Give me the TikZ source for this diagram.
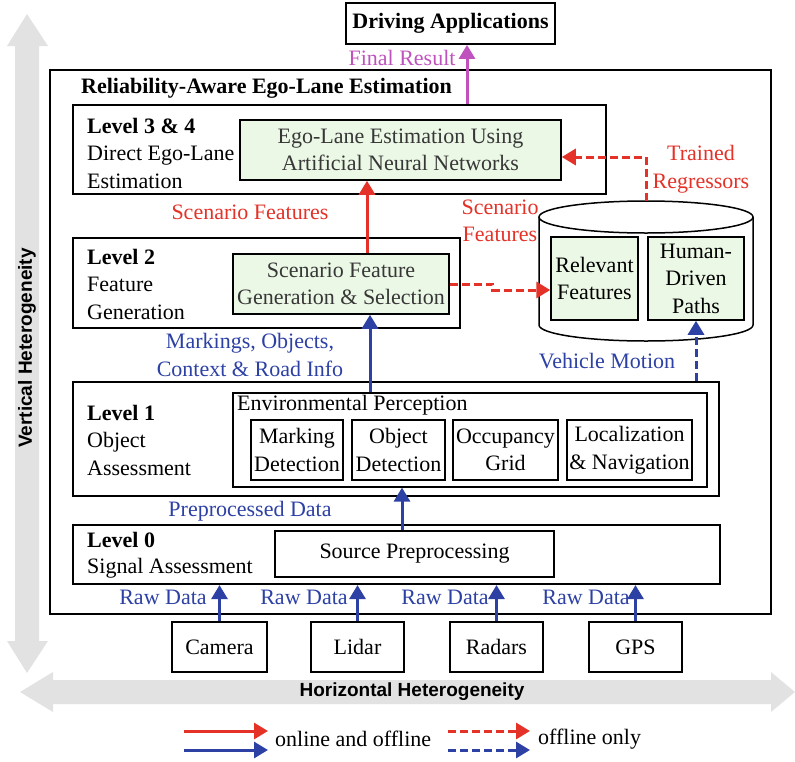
\documentclass[tikz,border=0pt]{standalone}
\usepackage{fontspec}
\setmainfont{Liberation Serif}
\setsansfont{Liberation Sans}
\usetikzlibrary{arrows.meta}

\definecolor{cred}{RGB}{228,50,40}
\definecolor{cblue}{RGB}{45,65,165}
\definecolor{cmag}{RGB}{192,82,190}
\definecolor{cgreen}{RGB}{236,248,230}
\definecolor{cgray}{RGB}{226,226,226}
\definecolor{ctext}{RGB}{55,55,55}

\tikzset{
  box/.style={draw=black, line width=1.5pt, inner sep=0pt, fill=white},
  lvbox/.style={box, line width=2.2pt},
  greenbox/.style={box, fill=cgreen, text=ctext, align=center},
  thinbox/.style={box, line width=1.3pt, align=center},
  lvtext/.style={anchor=west, align=left, inner sep=0pt},
  flow/.style={line width=3pt, -{Triangle[length=14pt,width=16pt]}},
  offl/.style={flow, dash pattern=on 8pt off 4pt},
  lbl/.style={inner sep=0pt, align=center},
  hetero/.style={font=\sffamily\bfseries\fontsize{19}{22}\selectfont, inner sep=0pt}
}

\begin{document}
\begin{tikzpicture}[x=1pt, y=-1pt, font=\fontsize{22}{27.5}\selectfont]
\useasboundingbox (0,0) rectangle (795,761);

% grey double arrows for the two heterogeneity axes
\fill[cgray] (27,14) -- (48,46) -- (39,46) -- (39,641) -- (48,641) -- (27,673)
  -- (7,641) -- (15,641) -- (15,46) -- (7,46) -- cycle;
\fill[cgray] (20,692) -- (53,672) -- (53,680) -- (771,680) -- (771,672) -- (795,692)
  -- (771,712) -- (771,704) -- (53,704) -- (53,712) -- cycle;
\node[hetero, rotate=90] (vh) at (27,348) {Vertical Heterogeneity};
\node[hetero] (hh) at (412,692) {Horizontal Heterogeneity};

% top-level application
\node[box, line width=1.8pt, minimum width=209pt, minimum height=41pt] (app) at (450.5,23.5)
  {\textbf{Driving Applications}};

% outer frame
\node[box, line width=2.8pt, minimum width=721pt, minimum height=544pt] (outer) at (410.5,342) {};
\node[lvtext] (title) at (81,88) {\textbf{Reliability-Aware Ego-Lane Estimation}};

% level 3 & 4
\node[lvbox, minimum width=533pt, minimum height=89pt] (lv34) at (339.5,149.5) {};
\node[lvtext] (lv34t) at (87,153) {\textbf{Level 3 \& 4}\\Direct Ego-Lane\\Estimation};
\node[greenbox, minimum width=321pt, minimum height=60pt] (ann) at (400.5,150)
  {Ego-Lane Estimation Using\\Artificial Neural Networks};

% level 2
\node[lvbox, minimum width=387pt, minimum height=90pt] (lv2) at (266.5,283) {};
\node[lvtext] (lv2t) at (87,284) {\textbf{Level 2}\\Feature\\Generation};
\node[greenbox, minimum width=216pt, minimum height=60pt] (sfg) at (341,284)
  {Scenario Feature\\Generation \& Selection};

% database cylinder
\filldraw[fill=white, draw=black, line width=1.5pt]
  (539,217) -- (539,325) arc[start angle=180, end angle=360, x radius=107pt, y radius=16pt]
  -- (753,217);
\draw[line width=1.5pt] (646,217) ellipse[x radius=107pt, y radius=16pt];
\coordinate (cyltop) at (646,201);
\node[greenbox, text=black, minimum width=87pt, minimum height=83pt] (rel) at (594.5,278.5)
  {Relevant\\Features};
\node[greenbox, text=black, minimum width=96pt, minimum height=83pt] (hdp) at (696,278.5)
  {Human-\\Driven\\Paths};

% level 1
\node[lvbox, minimum width=646pt, minimum height=114pt] (lv1) at (396,439) {};
\node[lvtext] (lv1t) at (87,440) {\textbf{Level 1}\\Object\\Assessment};
\node[box, line width=1.2pt, minimum width=474pt, minimum height=94pt] (env) at (470,440) {};
\node[anchor=west, inner sep=0pt] (envt) at (237,405) {Environmental Perception};
\node[thinbox, minimum width=92pt, minimum height=60pt] (mark) at (297,450) {Marking\\Detection};
\node[thinbox, minimum width=93pt, minimum height=60pt] (obj) at (398.5,450) {Object\\Detection};
\node[thinbox, minimum width=105pt, minimum height=60pt] (occ) at (505.5,450) {Occupancy\\Grid};
\node[thinbox, minimum width=125pt, minimum height=60pt] (loc) at (629.5,450) {Localization\\\& Navigation};

% level 0
\node[lvbox, minimum width=647pt, minimum height=59pt] (lv0) at (396.5,554.5) {};
\node[lvtext, font=\fontsize{22}{26}\selectfont] (lv0t) at (87,555) {\textbf{Level 0}\\Signal Assessment};
\node[box, line width=1.8pt, minimum width=279pt, minimum height=46pt] (src) at (414.5,554)
  {Source Preprocessing};

% sensors
\node[box, line width=1.3pt, minimum width=95pt, minimum height=50pt] (cam) at (219.5,647) {Camera};
\node[box, line width=1.3pt, minimum width=93pt, minimum height=50pt] (lid) at (357.5,647) {Lidar};
\node[box, line width=1.3pt, minimum width=93pt, minimum height=50pt] (rad) at (496.5,647) {Radars};
\node[box, line width=1.3pt, minimum width=93pt, minimum height=50pt] (gps) at (635.5,647) {GPS};

% raw data flows
\foreach \s/\lx in {cam/163, lid/304, rad/445, gps/586} {
  \draw[flow, cblue] (\s.north) -- (\s.north |- lv0.south);
  \node[lbl, text=cblue] at (\lx,597) {Raw Data};
}

% level 0 -> level 1
\draw[flow, cblue] ([xshift=-12.5pt]src.north) -- ([xshift=-12.5pt]src.north |- env.south);
\node[lbl, text=cblue] (ppd) at (250,511) {Preprocessed Data};

% level 1 -> level 2
\draw[flow, cblue] ([xshift=29pt]sfg.south |- env.north) -- ([xshift=29pt]sfg.south);
\node[lbl, text=cblue] (mor) at (250,355) {Markings, Objects,\\Context \& Road Info};

% vehicle motion into the database
\draw[offl, cblue] (hdp.south |- lv1.north) -- (hdp.south);
\node[lbl, text=cblue] (vm) at (607,361) {Vehicle Motion};

% level 2 -> level 3 & 4
\draw[flow, cred] ([xshift=26pt]sfg.north) -- ([xshift=26pt]sfg.north |- ann.south);
\node[lbl, text=cred] (sf1) at (250,212) {Scenario Features};

% scenario features into the database
\draw[offl, cred] (sfg.east) -- ++(43,0) |- ([yshift=-11.5pt]rel.west);
\node[lbl, text=cred] (sf2) at (500,221) {Scenario\\Features};

% trained regressors back to the estimator
\draw[offl, cred] (cyltop) |- ([yshift=-7pt]ann.east);
\node[lbl, text=cred] (tr) at (701,169) {Trained\\Regressors};

% final result
\draw[flow, cmag] ([xshift=16.5pt]app.south |- lv34.north) -- ([xshift=16.5pt]app.south);
\node[lbl, text=cmag] (fr) at (402,58) {Final Result};

% legend
\coordinate (la1) at (184,731); \coordinate (lb1) at (268,731);
\coordinate (la2) at (184,750); \coordinate (lb2) at (268,750);
\coordinate (lc1) at (448,731); \coordinate (ld1) at (530,731);
\coordinate (lc2) at (448,750); \coordinate (ld2) at (530,750);
\draw[flow, cred] (la1) -- (lb1);
\draw[flow, cblue] (la2) -- (lb2);
\draw[offl, cred] (lc1) -- (ld1);
\draw[offl, cblue] (lc2) -- (ld2);
\node[anchor=west, inner sep=0pt] (lg1) at (275,739) {online and offline};
\node[anchor=west, inner sep=0pt] (lg2) at (538,739) {offline only};
\end{tikzpicture}
\end{document}
